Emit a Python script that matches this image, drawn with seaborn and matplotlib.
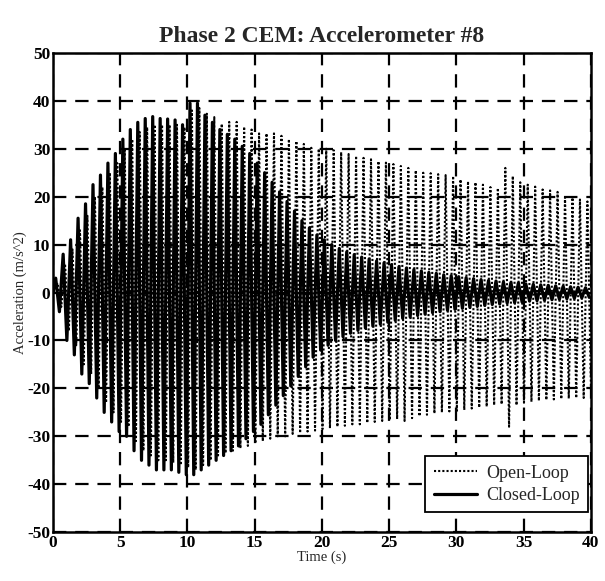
import numpy as np
import pandas as pd
import matplotlib
matplotlib.use("Agg")
import matplotlib.pyplot as plt
import seaborn as sns

# ---- data (per-cycle peak values, m/s^2) ----
cycle_period = 0.555          # s, one oscillation cycle
first_peak_time = 0.2         # s

closed_pos = [3, 8, 11, 15.5, 18.5, 22.5, 24.5, 27, 29, 32, 34, 35.5, 36.3, 36.7, 36.3, 36.2, 36, 35,
              39.5, 39.5, 37, 35.5, 34, 33, 32, 30.5, 29, 27, 25, 23, 21, 19, 17, 15, 13.5, 12, 11, 10,
              9.2, 8.5, 7.9, 7.4, 7, 6.6, 6.2, 5.8, 5.4, 5.1, 4.8, 4.5, 4.2, 4, 3.7, 3.5, 3.3, 3.1, 2.9,
              2.7, 2.5, 2.4, 2.2, 2.1, 2, 1.8, 1.7, 1.6, 1.5, 1.4, 1.3, 1.2, 1.1, 1]
closed_neg = [4, 10, 13, 17, 19, 22, 25, 27, 29, 30, 33, 35, 36, 37, 37, 37, 37.5, 38,
              38, 37, 36, 35, 34, 33, 32, 30.5, 29, 27.5, 25.5, 23.5, 21.5, 19.5, 17.5, 15.5, 13.5, 12, 11, 10,
              9.2, 8.5, 7.9, 7.4, 7, 6.6, 6.2, 5.8, 5.4, 5.1, 4.8, 4.5, 4.2, 4, 3.7, 3.5, 3.3, 3.1, 2.9,
              2.7, 2.5, 2.4, 2.2, 2.1, 2, 1.8, 1.7, 1.6, 1.5, 1.4, 1.3, 1.2, 1.1, 1]
open_pos = [2, 6, 9, 13, 16, 20, 22, 25, 27, 30, 32, 33.5, 34.5, 35, 35, 35, 35, 34.5,
            38, 38.5, 37.3, 36.6, 35.2, 35.6, 35.6, 34.6, 34, 33.2, 33.2, 33.2, 32.7, 32, 31.6, 31, 30.2, 30,
            30, 29.7, 29.3, 28.9, 28.5, 28.1, 27.8, 27.4, 27.1, 26.8, 26.4, 26, 25.5, 25, 24.9, 24.7, 24.5,
            24.3, 23.6, 23.2, 23, 22.5, 22, 21.8, 26, 24.3, 23, 22.5, 22.1, 21.5, 21.3, 21, 20.3, 19.8, 19.4, 19]
open_neg = [3, 8, 11, 15, 17, 20, 23, 25, 27, 28, 31, 33, 34, 35, 35, 35.5, 36, 36.5,
            37, 36, 35, 34, 33.5, 33, 32.5, 32, 31.5, 31, 30.5, 30, 30, 29.5, 29.3, 29, 28.8, 28.5,
            28.3, 28, 27.8, 27.5, 27.5, 27.2, 27, 26.8, 26.6, 26.4, 26.8, 26.2, 25.8, 25.5, 25.2, 25, 24.8,
            24.7, 24.5, 24.2, 24, 23.8, 23.5, 23.3, 28, 23.5, 23, 22.8, 22.6, 22.4, 22.3, 22.2, 22.1, 22, 22, 22]

series_names = ["Open-Loop", "Closed-Loop"]
x_ticks = [0, 5, 10, 15, 20, 25, 30, 35, 40]
y_ticks = [-50, -40, -30, -20, -10, 0, 10, 20, 30, 40, 50]


def peaks_to_frame(pos, neg, t0, name):
    half = cycle_period / 2.0
    vals = [0.0]
    times = [0.0]
    for k, (p, n) in enumerate(zip(pos, neg)):
        times.append(t0 + k * cycle_period)
        vals.append(p)
        times.append(t0 + k * cycle_period + half)
        vals.append(-n)
    return pd.DataFrame({"Time": times, "Accel": vals, "Series": name})


df_open = peaks_to_frame(open_pos, open_neg, first_peak_time + 0.14, series_names[0])
df_closed = peaks_to_frame(closed_pos, closed_neg, first_peak_time, series_names[1])

sns.set_theme(style="white")
plt.rcParams["font.family"] = ["Liberation Serif", "DejaVu Serif"]

fig = plt.figure(figsize=(6.05, 5.81), dpi=100)
ax = fig.add_axes([0.0876, 0.084, 0.889, 0.825])

sns.lineplot(data=df_open, x="Time", y="Accel", ax=ax, color="black", lw=1.5,
             linestyle=(0, (1, 1)), estimator=None, sort=False, label=series_names[0])
sns.lineplot(data=df_closed, x="Time", y="Accel", ax=ax, color="black", lw=2.3,
             linestyle="-", estimator=None, sort=False, label=series_names[1])

ax.set_xlim(0, 40)
ax.set_ylim(-50, 50)
ax.set_xticks(x_ticks)
ax.set_yticks(y_ticks)
ax.set_xticklabels([str(v) for v in x_ticks], fontsize=12.5, fontweight="bold")
ax.set_yticklabels([str(v) for v in y_ticks], fontsize=12.5, fontweight="bold")
ax.tick_params(direction="in", length=4, width=1.2, colors="black", pad=2)
ax.grid(True, color="black", linestyle=(0, (6, 4)), linewidth=1.6)
for s in ax.spines.values():
    s.set_color("black")
    s.set_linewidth(1.8)

ax.set_xlabel("Time (s)", fontsize=10.5, labelpad=0)
ax.set_ylabel("Acceleration (m/s^2)", fontsize=10.5, labelpad=0)
ax.set_title("Phase 2 CEM: Accelerometer #8", fontsize=17, fontweight="bold", pad=8)

leg = ax.legend(loc="lower right", bbox_to_anchor=(0.994, 0.042), fontsize=13, frameon=True,
                fancybox=False, borderaxespad=0.0, handlelength=2.4, borderpad=0.45,
                labelspacing=0.3, handletextpad=0.5)
leg.get_frame().set_edgecolor("black")
leg.get_frame().set_linewidth(1.3)
leg.get_frame().set_alpha(1)

fig.savefig("out.png", dpi=100)
